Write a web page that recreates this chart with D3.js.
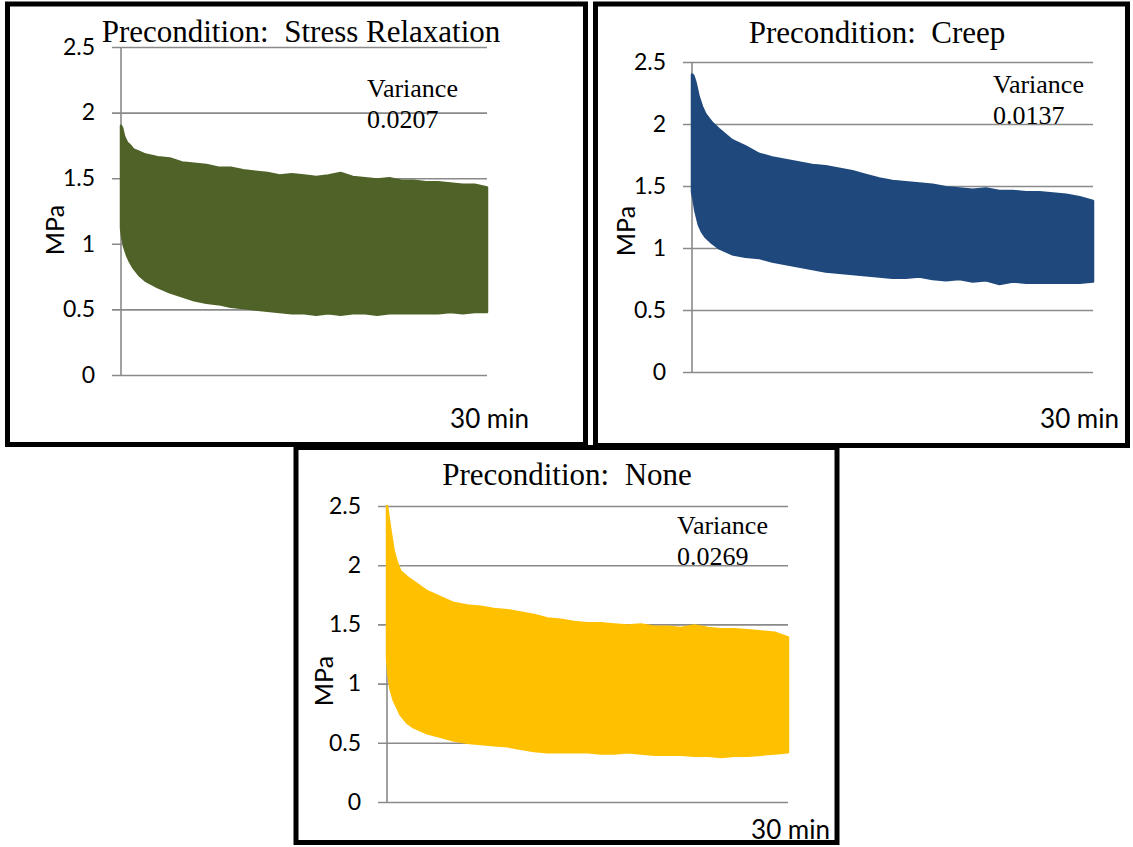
<!DOCTYPE html>
<html>
<head>
<meta charset="utf-8">
<script src="https://cdn.jsdelivr.net/npm/d3@7"></script>
<style>
  html, body { margin: 0; padding: 0; background: #fff; }
  svg { display: block; }
</style>
</head>
<body>
<svg id="chart" width="1133" height="847"></svg>
<script>
// Sample times (minutes) shared by all three recordings
const times = [0, 0.1, 0.25, 0.5, 0.75, 1, 1.5, 2, 3, 4, 5, 6, 7, 8, 9, 10, 11, 12, 13, 14, 15,
  16, 17, 18, 19, 20, 21, 22, 23, 24, 25, 26, 27, 28, 29, 30];

// Envelope of the cyclic stress signal (MPa): peak and trough per sample time
const relaxUpper = [1.90, 1.88, 1.82, 1.77, 1.75, 1.72, 1.70, 1.68, 1.66, 1.65, 1.62, 1.61, 1.60, 1.58, 1.58, 1.56,
  1.55, 1.54, 1.52, 1.53, 1.52, 1.51, 1.52, 1.54, 1.51, 1.50, 1.49, 1.50, 1.48, 1.48, 1.47, 1.47, 1.46, 1.45, 1.45, 1.43];
const relaxLower = [1.12, 1.05, 0.98, 0.91, 0.86, 0.82, 0.76, 0.72, 0.67, 0.63, 0.60, 0.57, 0.55, 0.54, 0.52, 0.51,
  0.50, 0.49, 0.48, 0.47, 0.47, 0.46, 0.47, 0.46, 0.47, 0.47, 0.46, 0.47, 0.47, 0.47, 0.47, 0.47, 0.48, 0.47, 0.48, 0.48];

const creepUpper = [2.40, 2.39, 2.34, 2.22, 2.14, 2.08, 2.01, 1.96, 1.87, 1.82, 1.76, 1.73, 1.71, 1.69, 1.67, 1.66,
  1.64, 1.62, 1.59, 1.56, 1.54, 1.53, 1.52, 1.51, 1.49, 1.48, 1.47, 1.48, 1.46, 1.46, 1.45, 1.45, 1.44, 1.43, 1.41, 1.38];
const creepLower = [1.45, 1.40, 1.30, 1.19, 1.13, 1.09, 1.04, 1.00, 0.95, 0.93, 0.92, 0.89, 0.87, 0.85, 0.83, 0.81,
  0.80, 0.79, 0.78, 0.77, 0.76, 0.76, 0.77, 0.75, 0.74, 0.75, 0.73, 0.74, 0.71, 0.73, 0.72, 0.72, 0.72, 0.72, 0.72, 0.73];

const noneUpper = [2.50, 2.42, 2.30, 2.12, 2.02, 1.95, 1.90, 1.86, 1.78, 1.73, 1.68, 1.66, 1.65, 1.63, 1.62, 1.60,
  1.58, 1.55, 1.54, 1.52, 1.51, 1.51, 1.50, 1.49, 1.50, 1.48, 1.48, 1.47, 1.49, 1.47, 1.46, 1.46, 1.45, 1.44, 1.43, 1.39];
const noneLower = [1.22, 1.08, 0.96, 0.86, 0.80, 0.74, 0.67, 0.63, 0.58, 0.55, 0.52, 0.50, 0.49, 0.48, 0.47, 0.45,
  0.43, 0.42, 0.42, 0.42, 0.42, 0.41, 0.41, 0.42, 0.41, 0.40, 0.40, 0.40, 0.39, 0.39, 0.38, 0.39, 0.39, 0.40, 0.41, 0.42];

const yTicks = [0, 0.5, 1, 1.5, 2, 2.5];
const titles = ["Precondition:  Stress Relaxation", "Precondition:  Creep", "Precondition:  None"];
const varianceValues = ["0.0207", "0.0137", "0.0269"];
const yLabel = "MPa";
const xLabel = "30 min";

// Panel frames and plot geometry
const panels = [
  { frame: [7.5, 4, 578, 440.5], axisX: 121, gridEnd: 487, y0: 375, yTop: 47,
    color: "#4F6228", upper: relaxUpper, lower: relaxLower,
    title: [301, 42], variance: [367, 97], xLab: [529, 428], yLab: [64, 230] },
  { frame: [595.5, 4, 532, 441.5], axisX: 692, gridEnd: 1093, y0: 372, yTop: 62,
    color: "#1F497D", upper: creepUpper, lower: creepLower,
    title: [877, 43], variance: [993, 93], xLab: [1119, 428], yLab: [635, 231] },
  { frame: [296, 447.5, 541, 395], axisX: 387, gridEnd: 788, y0: 802, yTop: 506,
    color: "#FFC000", upper: noneUpper, lower: noneLower,
    title: [567, 485], variance: [677, 534], xLab: [830, 839], yLab: [333, 681] }
];

const svg = d3.select("#chart");
const gridColor = "#8a8a8a";
const sans = "Lato, 'Open Sans', sans-serif";
const serif = "'Liberation Serif', 'Times New Roman', serif";

panels.forEach((p, k) => {
  const g = svg.append("g");
  const x = d3.scaleLinear().domain([0, 30]).range([p.axisX, p.gridEnd]);
  const y = d3.scaleLinear().domain([0, 2.5]).range([p.y0, p.yTop]);

  // Gridlines, tick marks and tick labels
  const tickLen = 9;
  const axis = d3.axisLeft(y)
    .tickValues(yTicks)
    .tickFormat(d3.format("~g"))
    .tickSize(-(p.gridEnd - p.axisX + tickLen))
    .tickPadding(17);
  const ag = g.append("g")
    .attr("transform", `translate(${p.axisX - tickLen},0)`)
    .call(axis);
  ag.select(".domain").remove();
  ag.selectAll(".tick line").attr("stroke", gridColor).attr("stroke-width", 1.6);
  ag.selectAll(".tick text")
    .attr("fill", "#000")
    .style("font-family", sans)
    .style("font-size", "23px");

  // Vertical value axis
  g.append("line")
    .attr("x1", p.axisX).attr("x2", p.axisX)
    .attr("y1", y(0)).attr("y2", y(2.5))
    .attr("stroke", gridColor).attr("stroke-width", 1.6);

  // Stress envelope band
  const area = d3.area()
    .x((d, i) => x(times[i]))
    .y0((d, i) => y(p.lower[i]))
    .y1((d, i) => y(p.upper[i]));
  g.append("path")
    .datum(p.upper)
    .attr("d", area)
    .attr("fill", p.color)
    .attr("stroke", p.color)
    .attr("stroke-width", 2.5)
    .attr("stroke-linejoin", "round");

  // Title
  g.append("text")
    .attr("x", p.title[0]).attr("y", p.title[1])
    .attr("text-anchor", "middle")
    .style("font-family", serif)
    .style("font-size", "31px")
    .style("white-space", "pre")
    .attr("xml:space", "preserve")
    .text(titles[k]);

  // Variance annotation
  const vt = g.append("text")
    .style("font-family", serif)
    .style("font-size", "26px");
  vt.append("tspan").attr("x", p.variance[0]).attr("y", p.variance[1]).text("Variance");
  vt.append("tspan").attr("x", p.variance[0]).attr("y", p.variance[1] + 31).text(varianceValues[k]);

  // Axis titles
  g.append("text")
    .attr("transform", `translate(${p.yLab[0]},${p.yLab[1]}) rotate(-90)`)
    .attr("text-anchor", "middle")
    .style("font-family", sans)
    .style("font-size", "25px")
    .text(yLabel);
  g.append("text")
    .attr("x", p.xLab[0]).attr("y", p.xLab[1])
    .attr("text-anchor", "end")
    .style("font-family", sans)
    .style("font-size", "26px")
    .text(xLabel);

  // Panel frame
  g.append("rect")
    .attr("x", p.frame[0]).attr("y", p.frame[1])
    .attr("width", p.frame[2]).attr("height", p.frame[3])
    .attr("fill", "none")
    .attr("stroke", "#000")
    .attr("stroke-width", 5);
});
</script>
</body>
</html>
